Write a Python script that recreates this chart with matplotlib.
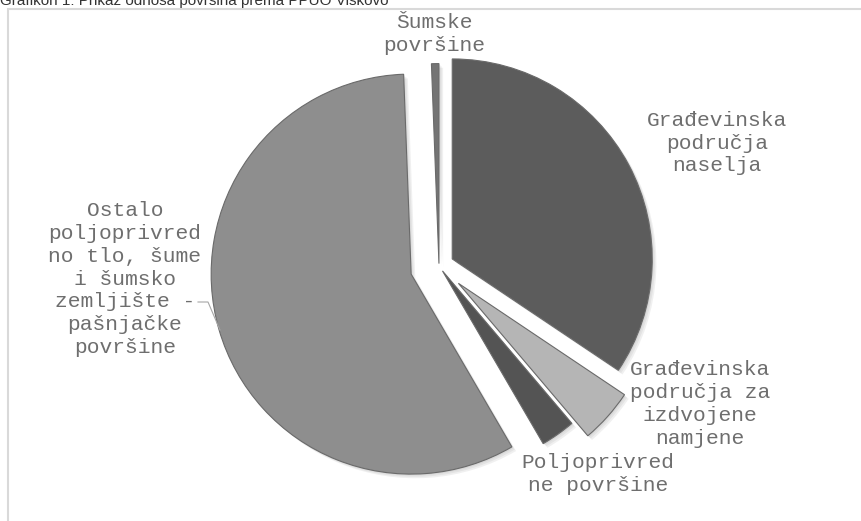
import matplotlib.pyplot as plt
import matplotlib.patheffects as pe
from matplotlib.patches import Rectangle

# Podaci (udjeli u %)
kategorije = ['Građevinska\npodručja\nnaselja',
              'Građevinska\npodručja za\nizdvojene\nnamjene',
              'Poljoprivred\nne površine',
              'Ostalo\npoljoprivred\nno tlo, šume\ni šumsko\nzemljište -\npašnjačke\npovršine',
              'Šumske\npovršine']
udjeli = [34.4, 4.4, 2.8, 57.8, 0.6]
izdvajanje = [0.075, 0.13, 0.03, 0.145, 0.012]   # udio radijusa
boje = ['#5c5c5c', '#b5b5b5', '#545454', '#8e8e8e', '#747474']

# pozicije natpisa (piksel koordinate, y prema dolje)
natpisi_xy = [(717, 143), (700, 404), (598, 474), (125, 279), (434, 34)]

W, H = 862, 521
R = 200
fig = plt.figure(figsize=(8.62, 5.21), dpi=100)
ax = fig.add_axes([0, 0, 1, 1])

sjena = [pe.SimplePatchShadow(offset=(o, -o), shadow_rgbFace='#888888', alpha=0.12)
         for o in (1, 2, 3)] + [pe.Normal()]

wedges, _ = ax.pie(udjeli, explode=[e * R for e in izdvajanje], colors=boje,
                   startangle=90, counterclock=False, center=(439, H - 266), radius=R,
                   wedgeprops=dict(edgecolor='#6a6a6a', linewidth=0.8))
for w in wedges:
    w.set_path_effects(sjena)

ax.set_xlim(0, W)
ax.set_ylim(0, H)
ax.set_aspect('equal')
ax.axis('off')

# okvir grafikona
ax.add_patch(Rectangle((8.5, -20), 900, H - 9 + 20, fill=False,
                       edgecolor='#d9d9d9', linewidth=1.5))

for tekst, (x, y) in zip(kategorije, natpisi_xy):
    ax.text(x, H - y, tekst, ha='center', va='center', fontsize=15.3,
            family='Liberation Mono', color='#6e6e6e', linespacing=1.25)

# linija vodilja za "Ostalo..."
ax.plot([198, 208, 220], [H - 302, H - 302, H - 330], color='#a6a6a6', lw=0.8)

# naslov (djelomično odrezan na vrhu)
fig.text(0.0, 1 - 5 / H, 'Grafikon 1: Prikaz odnosa površina prema PPUO Viskovo',
         ha='left', va='baseline', fontsize=11, family='Liberation Sans', color='#333333')

fig.savefig('out.png', dpi=100)
